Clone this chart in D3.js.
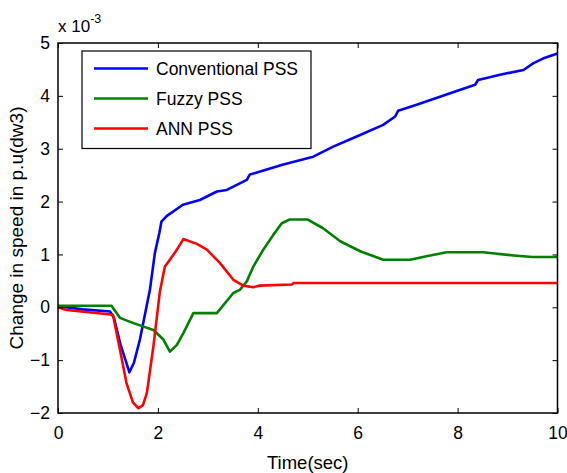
<!DOCTYPE html>
<html>
<head>
<meta charset="utf-8">
<script src="https://cdn.jsdelivr.net/npm/d3@7"></script>
<style>
  body { margin: 0; background: #fff; }
  svg { font-family: "Liberation Sans", Arial, sans-serif; }
</style>
</head>
<body>
<svg></svg>
<script>
const width = 567;
const height = 473;

// readings from the figure (y in units of 1e-3)
const convT = [0, 0.5, 1.04, 1.12, 1.25, 1.43, 1.52, 1.64, 1.84, 1.94, 2.03, 2.07, 2.18, 2.5, 2.84, 3.18, 3.38, 3.78, 3.84, 4.51, 5.11, 5.51, 5.98, 6.51, 6.75, 6.81, 7.18, 7.85, 8.35, 8.41, 8.85, 9.32, 9.52, 9.72, 10];
const convY = [0.02, -0.04, -0.08, -0.2, -0.7, -1.23, -1.05, -0.61, 0.33, 1.03, 1.41, 1.62, 1.73, 1.94, 2.03, 2.19, 2.22, 2.41, 2.51, 2.7, 2.85, 3.04, 3.23, 3.45, 3.61, 3.72, 3.83, 4.05, 4.21, 4.3, 4.4, 4.49, 4.62, 4.71, 4.8];

const fuzzyT = [0, 0.5, 1.07, 1.24, 1.51, 1.91, 2.11, 2.24, 2.38, 2.51, 2.71, 3.18, 3.51, 3.64, 3.78, 3.91, 4.11, 4.31, 4.48, 4.64, 5.0, 5.3, 5.65, 6.05, 6.51, 7.05, 7.4, 7.78, 8.51, 9.12, 9.5, 10];
const fuzzyY = [0.03, 0.03, 0.03, -0.2, -0.3, -0.43, -0.61, -0.84, -0.71, -0.49, -0.11, -0.11, 0.27, 0.33, 0.49, 0.77, 1.09, 1.37, 1.59, 1.66, 1.66, 1.5, 1.25, 1.06, 0.9, 0.9, 0.97, 1.04, 1.04, 0.98, 0.95, 0.95];

const annT = [0, 0.17, 1.1, 1.24, 1.37, 1.5, 1.61, 1.7, 1.78, 1.91, 2.04, 2.14, 2.24, 2.38, 2.51, 2.78, 2.98, 3.24, 3.51, 3.71, 3.91, 4.04, 4.68, 4.72, 10];
const annY = [0, -0.05, -0.14, -0.8, -1.43, -1.8, -1.91, -1.85, -1.62, -0.74, 0.3, 0.77, 0.9, 1.09, 1.29, 1.2, 1.09, 0.84, 0.52, 0.41, 0.38, 0.41, 0.43, 0.46, 0.46];

const seriesNames = ["Conventional PSS", "Fuzzy PSS", "ANN PSS"];
const seriesColors = ["#0000ff", "#008000", "#ff0000"];
const xTicks = [0, 2, 4, 6, 8, 10];
const yTicks = [-2, -1, 0, 1, 2, 3, 4, 5];

const series = [
  { name: seriesNames[0], color: seriesColors[0], t: convT, y: convY },
  { name: seriesNames[1], color: seriesColors[1], t: fuzzyT, y: fuzzyY },
  { name: seriesNames[2], color: seriesColors[2], t: annT, y: annY }
];

const margin = { left: 58, right: 9.5, top: 43, bottom: 60 };
const x = d3.scaleLinear().domain([0, 10]).range([margin.left, width - margin.right]);
const y = d3.scaleLinear().domain([-2, 5]).range([height - margin.bottom, margin.top]);

const svg = d3.select("svg").attr("width", width).attr("height", height);

// curves
const line = d3.line().x(d => x(d[0])).y(d => y(d[1]));
svg.append("g")
  .selectAll("path")
  .data(series)
  .join("path")
  .attr("d", d => line(d.t.map((t, i) => [t, d.y[i]])))
  .attr("fill", "none")
  .attr("stroke", d => d.color)
  .attr("stroke-width", 2.6)
  .attr("stroke-linejoin", "round");

// axes (box with inward ticks)
const axisStyle = g => {
  g.select(".domain").remove();
  g.selectAll(".tick line").attr("stroke", "#000").attr("stroke-width", 1);
  g.selectAll(".tick text").attr("font-size", 17.5).attr("fill", "#000");
};
svg.append("g")
  .attr("transform", `translate(0,${y(-2)})`)
  .call(d3.axisBottom(x).tickValues(xTicks).tickSize(-5).tickPadding(14).tickFormat(d3.format("d")))
  .call(axisStyle);
svg.append("g")
  .attr("transform", `translate(${x(0)},0)`)
  .call(d3.axisLeft(y).tickValues(yTicks).tickSize(-5).tickPadding(8).tickFormat(d3.format("d")))
  .call(axisStyle);
svg.append("g")
  .attr("transform", `translate(0,${y(5)})`)
  .call(d3.axisTop(x).tickValues(xTicks).tickSize(-5).tickFormat(""))
  .call(axisStyle);
svg.append("g")
  .attr("transform", `translate(${x(10)},0)`)
  .call(d3.axisRight(y).tickValues(yTicks).tickSize(-5).tickFormat(""))
  .call(axisStyle);

svg.append("rect")
  .attr("x", x(0)).attr("y", y(5))
  .attr("width", x(10) - x(0)).attr("height", y(-2) - y(5))
  .attr("fill", "none").attr("stroke", "#000").attr("stroke-width", 1.5);

// exponent
const expo = svg.append("text").attr("x", x(0)).attr("y", 32).attr("font-size", 17).attr("fill", "#000");
expo.append("tspan").text("x 10");
expo.append("tspan").attr("dy", -9).attr("font-size", 12.5).text("-3");

// axis labels
svg.append("text")
  .attr("x", (x(0) + x(10)) / 2).attr("y", 469)
  .attr("text-anchor", "middle").attr("font-size", 18.5)
  .text("Time(sec)");
svg.append("text")
  .attr("transform", `translate(23,${(y(5) + y(-2)) / 2}) rotate(-90)`)
  .attr("text-anchor", "middle").attr("font-size", 19)
  .text("Change in speed in p.u(dw3)");

// legend
const legend = svg.append("g").attr("transform", "translate(82,51)");
legend.append("rect")
  .attr("width", 229).attr("height", 97.5)
  .attr("fill", "#fff").attr("stroke", "#000").attr("stroke-width", 1.2);
const rows = legend.selectAll("g.row")
  .data(series)
  .join("g")
  .attr("class", "row")
  .attr("transform", (d, i) => `translate(0,${17.5 + i * 30})`);
rows.append("line")
  .attr("x1", 12).attr("x2", 66)
  .attr("stroke", d => d.color).attr("stroke-width", 2.6);
rows.append("text")
  .attr("x", 74).attr("dy", "0.35em")
  .attr("font-size", 17.5)
  .text(d => d.name);
</script>
</body>
</html>
